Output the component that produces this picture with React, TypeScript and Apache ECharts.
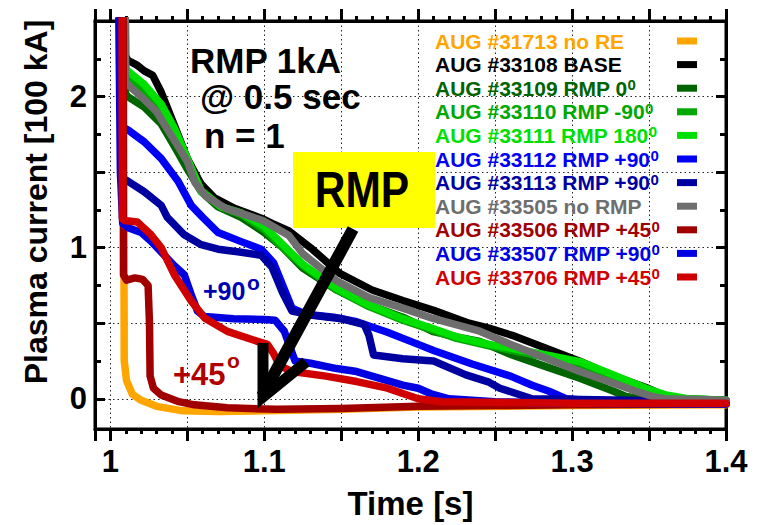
import React, { useEffect, useRef } from 'react';
import * as echarts from 'echarts';

// ---- data: [time (s), plasma current (100 kA)] ----
const orange31713: number[][] = [[1.0085,3.0],[1.0088,1.0],[1.009,0.25],[1.0105,0.12],[1.0143,0.03],[1.02,-0.01],[1.03,-0.05],[1.047,-0.08],[1.07,-0.085],[1.1,-0.08],[1.15,-0.07],[1.2,-0.055],[1.3,-0.045],[1.4,-0.04]];
const black33108: number[][] = [[1.0095,3.0],[1.0098,2.27],[1.0113,2.24],[1.017,2.21],[1.022,2.17],[1.0275,2.14],[1.033,2.03],[1.0416,1.81],[1.05,1.59],[1.059,1.42],[1.0676,1.33],[1.0806,1.26],[1.098,1.195],[1.105,1.16],[1.116,1.11],[1.13,1.0],[1.149,0.83],[1.17,0.72],[1.19,0.65],[1.21,0.585],[1.233,0.5],[1.246,0.467],[1.261,0.42],[1.283,0.334],[1.305,0.248],[1.327,0.15],[1.348,0.075],[1.361,0.015],[1.37,0.0],[1.4,-0.01]];
const dkgreen33109: number[][] = [[1.0095,3.0],[1.0098,2.02],[1.0113,2.0],[1.022,1.93],[1.033,1.82],[1.0416,1.67],[1.05,1.52],[1.059,1.37],[1.07,1.27],[1.085,1.2],[1.1,1.1],[1.112,1.0],[1.125,0.864],[1.147,0.72],[1.168,0.62],[1.19,0.54],[1.209,0.447],[1.225,0.41],[1.24,0.38],[1.261,0.29],[1.283,0.213],[1.305,0.136],[1.327,0.05],[1.335,0.015],[1.345,0.0],[1.4,-0.01]];
const green33110: number[][] = [[1.0095,3.0],[1.0098,2.14],[1.0113,2.12],[1.022,2.04],[1.033,1.91],[1.0416,1.76],[1.05,1.58],[1.059,1.38],[1.072,1.27],[1.085,1.22],[1.1,1.12],[1.112,1.0],[1.125,0.88],[1.147,0.72],[1.168,0.61],[1.19,0.52],[1.209,0.455],[1.225,0.4],[1.246,0.35],[1.261,0.32],[1.283,0.275],[1.305,0.225],[1.327,0.14],[1.345,0.06],[1.358,0.02],[1.37,0.0],[1.4,-0.01]];
const lime33111: number[][] = [[1.0095,3.0],[1.0098,2.19],[1.0113,2.17],[1.022,2.08],[1.033,1.95],[1.0416,1.79],[1.05,1.59],[1.059,1.37],[1.072,1.27],[1.085,1.23],[1.1,1.14],[1.112,1.02],[1.125,0.89],[1.147,0.73],[1.168,0.62],[1.19,0.53],[1.209,0.467],[1.225,0.41],[1.246,0.36],[1.261,0.334],[1.283,0.29],[1.305,0.246],[1.327,0.157],[1.348,0.07],[1.361,0.025],[1.375,0.0],[1.4,-0.01]];
const blue33112: number[][] = [[1.006,3.0],[1.0075,1.8],[1.0113,1.78],[1.022,1.7],[1.033,1.59],[1.044,1.44],[1.0525,1.28],[1.06,1.2],[1.07,1.1],[1.085,1.04],[1.098,0.99],[1.106,0.9],[1.112,0.75],[1.118,0.6],[1.127,0.56],[1.145,0.54],[1.16,0.51],[1.18,0.44],[1.2,0.36],[1.21,0.32],[1.235,0.23],[1.26,0.15],[1.274,0.09],[1.285,0.05],[1.296,0.0],[1.32,-0.02],[1.4,-0.03]];
const dkblue33113: number[][] = [[1.006,3.0],[1.0075,1.46],[1.0113,1.44],[1.022,1.37],[1.033,1.28],[1.037,1.2],[1.048,1.085],[1.059,1.02],[1.07,0.99],[1.085,0.97],[1.098,0.95],[1.105,0.87],[1.112,0.7],[1.118,0.58],[1.13,0.555],[1.15,0.53],[1.165,0.49],[1.168,0.42],[1.171,0.29],[1.19,0.265],[1.21,0.25],[1.231,0.158],[1.246,0.11],[1.253,0.07],[1.274,0.0],[1.4,-0.02]];
const gray33505: number[][] = [[1.0095,3.0],[1.0098,2.1],[1.0113,2.08],[1.022,1.98],[1.03,1.9],[1.0416,1.71],[1.05,1.57],[1.055,1.43],[1.062,1.34],[1.075,1.26],[1.099,1.18],[1.116,1.08],[1.125,0.96],[1.147,0.78],[1.168,0.67],[1.19,0.6],[1.209,0.533],[1.24,0.447],[1.261,0.356],[1.283,0.268],[1.305,0.18],[1.327,0.103],[1.342,0.048],[1.352,0.016],[1.36,0.0],[1.4,-0.01]];
const dkred33506: number[][] = [[1.0082,3.0],[1.0085,0.82],[1.0105,0.785],[1.016,0.8],[1.021,0.79],[1.0245,0.75],[1.0254,0.5],[1.0258,0.15],[1.028,0.07],[1.033,0.025],[1.0436,-0.017],[1.0546,-0.04],[1.076,-0.06],[1.108,-0.07],[1.15,-0.065],[1.2,-0.05],[1.25,-0.045],[1.3,-0.04],[1.4,-0.035]];
const blue33507: number[][] = [[1.005,3.0],[1.0065,1.5],[1.008,1.16],[1.012,1.13],[1.02,1.1],[1.0267,1.04],[1.035,0.95],[1.0416,0.88],[1.048,0.82],[1.0525,0.69],[1.0566,0.58],[1.061,0.545],[1.08,0.53],[1.1,0.525],[1.107,0.52],[1.113,0.447],[1.12,0.25],[1.13,0.235],[1.147,0.2],[1.16,0.18],[1.19,0.09],[1.2,0.07],[1.209,0.03],[1.22,0.0],[1.25,-0.02],[1.3,-0.03],[1.4,-0.035]];
const red33706: number[][] = [[1.0075,3.0],[1.0078,1.19],[1.009,1.18],[1.0175,1.17],[1.0264,1.085],[1.033,1.0],[1.0416,0.82],[1.0527,0.644],[1.0614,0.533],[1.076,0.446],[1.0956,0.38],[1.102,0.36],[1.106,0.3],[1.11,0.22],[1.118,0.18],[1.14,0.15],[1.16,0.114],[1.18,0.07],[1.2,0.0],[1.215,-0.02],[1.3,-0.03],[1.4,-0.03]];

const seriesNames = ['AUG #31713 no RE', 'AUG #33108 BASE', 'AUG #33109 RMP 0', 'AUG #33110 RMP -90', 'AUG #33111 RMP 180', 'AUG #33112 RMP +90', 'AUG #33113 RMP +90', 'AUG #33505 no RMP', 'AUG #33506 RMP +45', 'AUG #33507 RMP +90', 'AUG #33706 RMP +45'];
const seriesData = [orange31713, black33108, dkgreen33109, green33110, lime33111, blue33112, dkblue33113, gray33505, dkred33506, blue33507, red33706];
const seriesColors = ['#FFA500', '#000000', '#006400', '#00A800', '#00E000', '#0000F5', '#0000A0', '#6E6E6E', '#A00000', '#0000E0', '#D00000'];
const hasDegree = [false, false, true, true, true, true, true, false, true, true, true];

const xMin = 0.99;
const xMax = 1.4;
const yMin = -0.2;
const yMax = 2.5;
const xLabelValues = [1.0, 1.1, 1.2, 1.3, 1.4];
const yLabelValues = [0, 1, 2];

const FONT = '"Liberation Sans", Arial, Helvetica, sans-serif';

export default function App() {
  const ref = useRef<HTMLDivElement>(null);

  useEffect(() => {
    document.body.style.margin = '0';
    if (!ref.current) return;
    const chart = echarts.init(ref.current, null, { renderer: 'svg' });

    const xFmt = (v: number) => {
      const hit = xLabelValues.find((l) => Math.abs(l - v) < 1e-6);
      if (hit === undefined) return '';
      return hit === 1 ? '1' : hit.toFixed(1);
    };
    const yFmt = (v: number) => {
      const hit = yLabelValues.find((l) => Math.abs(l - v) < 1e-6);
      return hit === undefined ? '' : String(hit);
    };

    const dotted = { show: true, lineStyle: { color: '#222', width: 1, type: [1.5, 3] as any } };
    const labelStyle = { color: '#000', fontFamily: FONT, fontWeight: 'bold' as const, fontSize: 31 };

    const xMajor = (pos: 'bottom' | 'top', main: boolean) => ({
      type: 'value', position: pos, min: xMin, max: xMax, minInterval: 0.05, maxInterval: 0.05,
      axisLine: { show: true, onZero: false, lineStyle: { color: '#000', width: 3 } },
      axisTick: { show: true, inside: false, length: 12, lineStyle: { color: '#000', width: 3 } },
      axisLabel: main ? { show: true, margin: 17, formatter: xFmt, ...labelStyle } : { show: false },
      splitLine: main ? dotted : { show: false },
      ...(main ? {
        name: 'Time [s]', nameLocation: 'middle', nameGap: 58,
        nameTextStyle: { color: '#000', fontFamily: FONT, fontWeight: 'bold', fontSize: 33 },
      } : {}),
    });
    const xMinor = (pos: 'bottom' | 'top') => ({
      type: 'value', position: pos, min: xMin, max: xMax, interval: 0.01,
      axisLine: { show: false, onZero: false },
      axisTick: { show: true, inside: false, length: 5, lineStyle: { color: '#000', width: 3 } },
      axisLabel: { show: false }, splitLine: { show: false },
    });
    const yMajor = (pos: 'left' | 'right', main: boolean) => ({
      type: 'value', position: pos, min: yMin, max: yMax, minInterval: 0.5, maxInterval: 0.5,
      axisLine: { show: true, onZero: false, lineStyle: { color: '#000', width: 3 } },
      axisTick: { show: true, inside: true, length: 10, lineStyle: { color: '#000', width: 3 } },
      axisLabel: main ? { show: true, margin: 8, formatter: yFmt, ...labelStyle } : { show: false },
      splitLine: main ? dotted : { show: false },
      ...(main ? {
        name: 'Plasma current [100 kA]', nameLocation: 'middle', nameGap: 43,
        nameTextStyle: { color: '#000', fontFamily: FONT, fontWeight: 'bold', fontSize: 32, padding: [0, 0, 0, 46] },
      } : {}),
    });
    const yMinor = (pos: 'left' | 'right') => ({
      type: 'value', position: pos, min: yMin, max: yMax, minInterval: 0.25, maxInterval: 0.25,
      axisLine: { show: false, onZero: false },
      axisTick: { show: true, inside: true, length: 6, lineStyle: { color: '#000', width: 3 } },
      axisLabel: { show: false }, splitLine: { show: false },
    });

    const series = seriesNames.map((name, i) => ({
      type: 'line', name, data: seriesData[i], xAxisIndex: 0, yAxisIndex: 0,
      showSymbol: false, symbol: 'none', clip: true, color: seriesColors[i],
      lineStyle: { color: seriesColors[i], width: 7.5, cap: 'round', join: 'round' },
      itemStyle: { color: seriesColors[i] },
      emphasis: { disabled: true },
    }));

    const bigText = (text: string, x: number, y: number, size: number, color: string, extra: any = {}) => ({
      type: 'text', x, y, z: 100,
      style: { text, fill: color, fontFamily: FONT, fontWeight: 'bold', fontSize: size, align: 'left', verticalAlign: 'middle' },
      ...extra,
    });

    const option: any = {
      animation: false,
      backgroundColor: '#fff',
      grid: { left: 95, right: 33, top: 21, bottom: 95, show: true, borderColor: '#000', borderWidth: 3, containLabel: false },
      xAxis: [xMajor('bottom', true), xMinor('bottom'), xMajor('top', false), xMinor('top')],
      yAxis: [yMajor('left', true), yMinor('left'), yMajor('right', false), yMinor('right')],
      legend: {
        show: true, orient: 'vertical', left: 435, top: 30, padding: 0, align: 'right',
        icon: 'rect', itemWidth: 20, itemHeight: 7, itemGap: 1.6, selectedMode: false,
        formatter: (name: string) => {
          const i = seriesNames.indexOf(name);
          return `{a|${name}}` + (hasDegree[i] ? '{s|0}' : '');
        },
        textStyle: {
          width: 237, fontFamily: FONT, fontWeight: 'bold', fontSize: 21, lineHeight: 22,
          rich: {
            a: { fontFamily: FONT, fontWeight: 'bold', fontSize: 21, lineHeight: 22, align: 'left' },
            s: { fontFamily: FONT, fontWeight: 'bold', fontSize: 15, lineHeight: 7, verticalAlign: 'top', align: 'left' },
          },
        },
        data: seriesNames.map((name, i) => ({ name, textStyle: { color: seriesColors[i] } })),
      },
      series,
      graphic: [
        bigText('RMP 1kA', 190, 60, 35, '#000'),
        bigText('@ 0.5 sec', 200, 96, 35, '#000'),
        bigText('n = 1', 204, 135, 35, '#000'),
        { type: 'rect', z: 100, shape: { x: 293, y: 152, width: 142, height: 76 }, style: { fill: '#FFFF00' } },
        { type: 'text', x: 362, y: 190, z: 101, scaleX: 0.85,
          style: { text: 'RMP', fill: '#000', fontFamily: FONT, fontWeight: 'bold', fontSize: 50, align: 'center', verticalAlign: 'middle' } },
        bigText('+90', 203, 291, 25, '#0000B4'),
        bigText('o', 247, 282, 21, '#0000B4'),
        bigText('+45', 173, 374, 31, '#B00000'),
        bigText('o', 227, 360, 21, '#B00000'),
        { type: 'polyline', z: 102, shape: { points: [[353, 229], [262, 396]] }, style: { stroke: '#000', lineWidth: 12, fill: 'none' } },
        { type: 'polyline', z: 102, shape: { points: [[263, 343], [263, 397], [306, 362]] }, style: { stroke: '#000', lineWidth: 11, lineJoin: 'miter', fill: 'none' } },
      ],
    };

    chart.setOption(option);
    return () => chart.dispose();
  }, []);

  return <div ref={ref} style={{ position: 'absolute', left: 0, top: 0, width: 759, height: 525 }} />;
}
